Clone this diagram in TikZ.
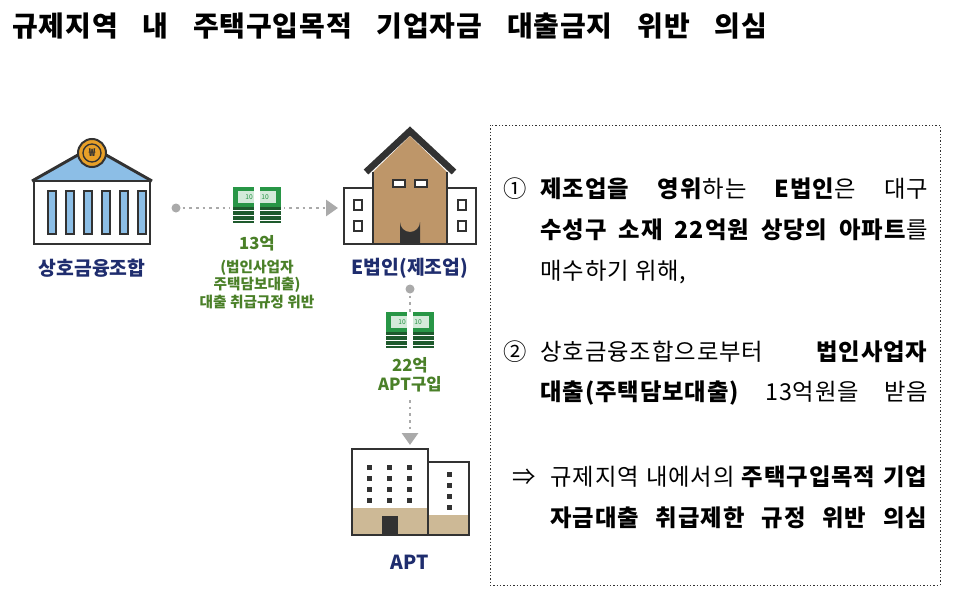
\documentclass[tikz,border=0pt]{standalone}
\usepackage{fontspec}
\setmainfont{Noto Sans CJK KR}
\usetikzlibrary{arrows.meta,positioning,calc}
\definecolor{navy}{RGB}{31,45,110}
\definecolor{leaf}{RGB}{74,128,40}
\definecolor{bill}{RGB}{40,150,70}
\definecolor{billdark}{RGB}{30,90,45}
\definecolor{skyblue}{RGB}{140,190,230}
\definecolor{coin}{RGB}{232,160,40}
\definecolor{brick}{RGB}{190,150,105}
\definecolor{sand}{RGB}{205,185,150}
\definecolor{ink}{RGB}{50,50,50}
\definecolor{flow}{RGB}{170,170,170}
\tikzset{
  caption/.style={font=\fontsize{14.5}{16}\selectfont\bfseries, text=navy},
  moneytext/.style={font=\fontsize{12.5}{15}\selectfont\bfseries, text=leaf, align=center},
  flowline/.style={flow, line width=2.2pt, dash pattern=on 2pt off 3pt},
  flowarrow/.style={flowline, -{Triangle[length=9pt,width=12pt,fill=flow]}},
  boxtext/.style={font=\fontsize{17.5}{20}\selectfont\addfontfeatures{LetterSpace=4}, anchor=west, inner sep=0pt},
  outline/.style={draw=ink, line width=2.2pt}
}
% money bundle
\newcommand{\bundle}[1]{%
  \fill[billdark] ($(#1)+(-24,-2)$) rectangle ($(#1)+(24,18)$);
  \foreach \s in {5,10,15} \draw[white, line width=0.6pt] ($(#1)+(-24,\s)$) -- ($(#1)+(24,\s)$);
  \fill[bill] ($(#1)+(-24,-18)$) rectangle ($(#1)+(24,2)$);
  \fill[white!80!bill] ($(#1)+(-19,-14)$) rectangle ($(#1)+(19,-2)$);
  \node[font=\fontsize{5}{5}\selectfont, text=bill] at ($(#1)+(-8,-8)$) {10};
  \node[font=\fontsize{5}{5}\selectfont, text=bill] at ($(#1)+(8,-8)$) {10};
  \fill[white] ($(#1)+(-3,-18)$) rectangle ($(#1)+(3,18)$);
}
\begin{document}
\begin{tikzpicture}[x=0.75pt, y=-0.75pt]
\useasboundingbox (0,0) rectangle (960,614);
\fill[white] (0,0) rectangle (960,614);

% title
\node[anchor=west, inner sep=0pt, font=\fontsize{21}{24}\selectfont\bfseries\addfontfeatures{LetterSpace=3}] (title) at (12,26)
  {\makebox[566pt][s]{규제지역\hfill 내\hfill 주택구입목적\hfill 기업자금\hfill 대출금지\hfill 위반\hfill 의심}};

% bank
\fill[skyblue] (36,180) -- (92,148) -- (148,180) -- cycle;
\draw[outline, line join=round] (32,181) -- (92,147) -- (152,181);
\draw[outline, fill=white] (34,181) rectangle (150,244);
\foreach \i in {0,...,5}
  \draw[ink, line width=1.5pt, fill=skyblue] (48+\i*18,191) rectangle (56+\i*18,234);
\draw[ink, line width=1.5pt, fill=coin] (92,153) circle (14);
\draw[ink, line width=1pt] (92,153) circle (9);
\node[font=\fontsize{8}{8}\selectfont\bfseries, text=ink] (won) at (92,153) {₩};
\node[caption] (bank) at (92,268) {상호금융조합};

% corporation
\fill[brick] (373,172) -- (410,136) -- (447,172) -- (447,244) -- (373,244) -- cycle;
\draw[ink, line width=5pt, line join=miter] (366,172) -- (410,131) -- (454,172);
\draw[outline] (373,172) -- (373,244) -- (447,244) -- (447,172);
\draw[outline, fill=white] (344,188) rectangle (373,244);
\draw[outline, fill=white] (447,188) rectangle (476,244);
\foreach \x in {399,421} \draw[ink, line width=1.5pt, fill=white] (\x-6,180) rectangle (\x+6,187);
\foreach \x in {358,462} {
  \draw[ink, line width=1.5pt, fill=white] (\x-4,200) rectangle (\x+4,210);
  \draw[ink, line width=1.5pt, fill=white] (\x-4,221) rectangle (\x+4,231);
}
\fill[ink] (400,244) -- (400,222) arc[start angle=180, end angle=0, radius=10] -- (420,244) -- cycle;
\node[caption] (corp) at (410,268) {E법인(제조업)};

% loan flow
\coordinate (loanstart) at (176,208);
\coordinate (loanend) at (338,208);
\fill[flow] (loanstart) circle (4.5);
\draw[flowarrow] (loanstart) -- (loanend);
\fill[white] (230,186) rectangle (284,226);
\bundle{257,205}
\node[moneytext] (loan) at (257,243) {13억};
\node[moneytext, below=0pt of loan, font=\fontsize{11}{13}\selectfont\bfseries] (loannote) {(법인사업자\\주택담보대출)\\대출 취급규정 위반};

% purchase flow
\coordinate (buystart) at (410,289);
\coordinate (buyend) at (410,445);
\fill[flow] (buystart) circle (4.5);
\draw[flowline] (buystart) -- (410,312);
\draw[flowarrow] (410,400) -- (buyend);
\bundle{410,330}
\node[moneytext] (buy) at (410,375) {22억\\[-1pt]APT구입};

% apartment
\fill[sand] (352,508) rectangle (428,535);
\fill[sand] (428,515) rectangle (469,535);
\draw[outline] (352,449) rectangle (428,535);
\draw[outline] (428,462) rectangle (469,535);
\foreach \x in {369,389,409}
  \foreach \y in {467,478,489,500}
    \fill[ink] (\x-2.5,\y-2.5) rectangle (\x+2.5,\y+2.5);
\foreach \y in {474,485,496,507}
  \fill[ink] (447,\y-2.5) rectangle (452,\y+2.5);
\fill[ink] (382,516) rectangle (398,535);
\node[caption] (apt) at (410,562) {APT};

% explanation box
\draw[ink, line width=0.6pt, dash pattern=on 1pt off 1.5pt] (490,125) rectangle (940,585);
\node[boxtext] (n1) at (503,189) {①};
\node[boxtext] (l1) at (540,189) {\makebox[291pt][s]{\textbf{제조업을}\hfill\textbf{영위}하는\hfill\textbf{E법인}은\hfill 대구}};
\node[boxtext] (l2) at (540,230) {\makebox[291pt][s]{\textbf{수성구}\hfill\textbf{소재}\hfill\textbf{22억원}\hfill\textbf{상당의}\hfill\textbf{아파트}를}};
\node[boxtext] (l3) at (540,272) {매수하기 위해,};
\node[boxtext] (n2) at (503,352) {②};
\node[boxtext] (l4) at (540,352) {\makebox[291pt][s]{상호금융조합으로부터\hfill\textbf{법인사업자}}};
\node[boxtext] (l5) at (540,393) {\makebox[291pt][s]{\textbf{대출(주택담보대출)}\hfill 13억원을\hfill 받음}};
\node[boxtext] (arr) at (512,477) {⇒};
\node[boxtext] (l6) at (550,477) {\makebox[283.5pt][s]{규제지역\hfill 내에서의\hfill\textbf{주택구입목적}\hfill\textbf{기업}}};
\node[boxtext] (l7) at (550,518) {\makebox[283.5pt][s]{\textbf{자금대출}\hfill\textbf{취급제한}\hfill\textbf{규정}\hfill\textbf{위반}\hfill\textbf{의심}}};
\end{tikzpicture}
\end{document}
